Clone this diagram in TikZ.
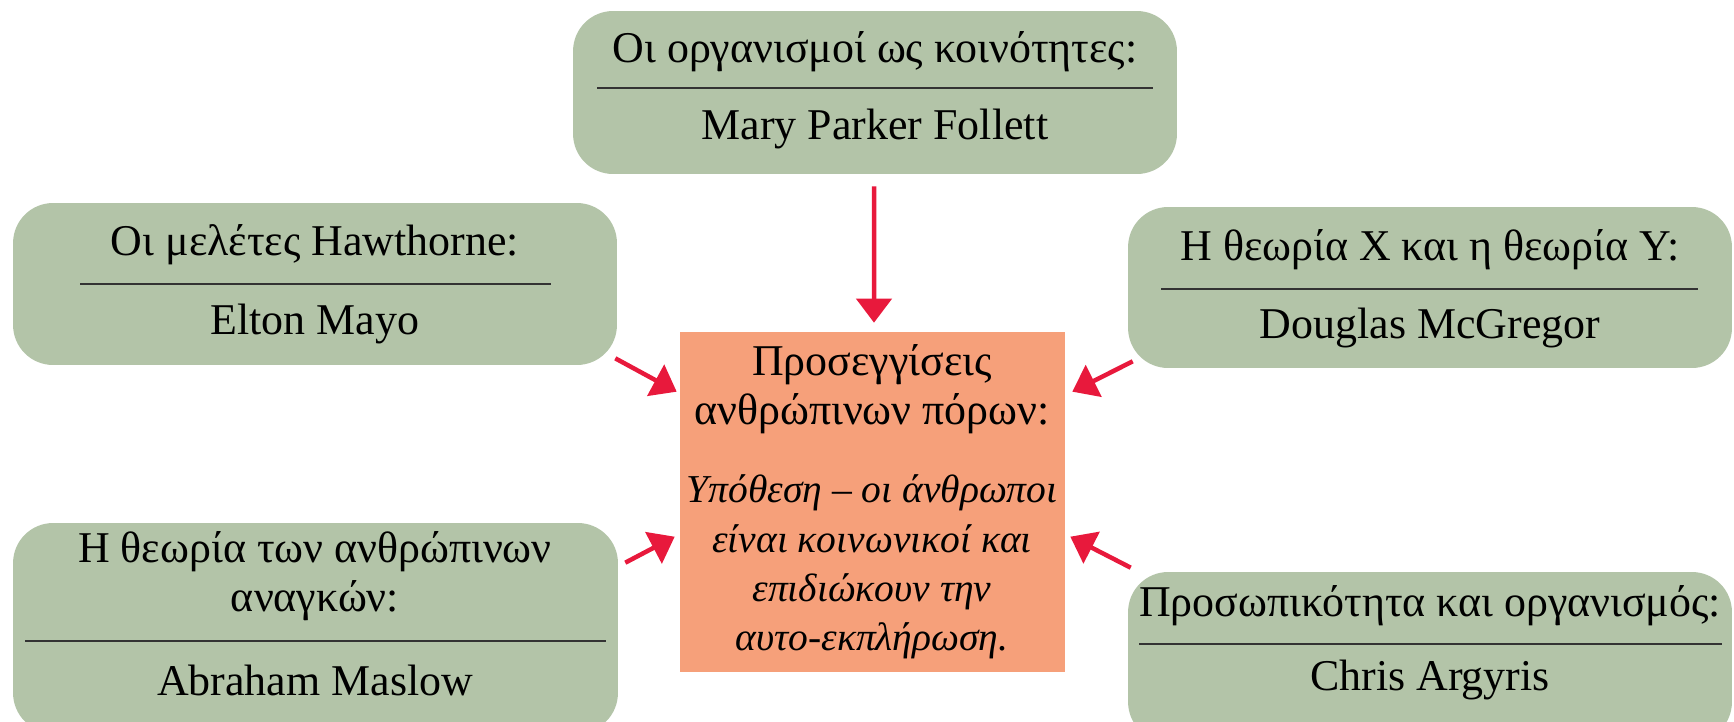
\documentclass[tikz,border=0pt]{standalone}
\usepackage{fontspec}
\setmainfont{Liberation Serif}
\usetikzlibrary{arrows.meta}
\definecolor{sage}{HTML}{B3C4A8}
\definecolor{salmon}{HTML}{F6A07A}
\definecolor{arrred}{HTML}{E8193C}
\begin{document}
\begin{tikzpicture}[
			x=0.02cm, y=-0.02cm,
			theory/.style={rectangle, rounded corners=0.8cm, fill=sage, inner sep=0pt},
			core/.style={rectangle, fill=salmon, inner sep=0pt},
			txt/.style={align=center, inner sep=0pt, font=\fontsize{25}{28}\selectfont},
			rulebar/.style={line width=0.04cm, black!80},
			arr/.style={-{Triangle[length=0.48cm, width=0.7cm]}, line width=0.09cm, arrred},
		]
		\useasboundingbox (0,0) rectangle (1734,721);

		% Boxes
		\node[theory, minimum width=12.08cm, minimum height=3.26cm] (follett) at (875,92.5)  {};
		\node[theory, minimum width=12.08cm, minimum height=3.24cm] (mayo)    at (315,284)   {};
		\node[theory, minimum width=12.08cm, minimum height=3.22cm] (mcgregor) at (1430,287.5) {};
		\node[theory, minimum width=12.1cm,  minimum height=4.2cm]  (maslow)  at (315.5,628) {};
		\node[theory, minimum width=12.08cm, minimum height=3.4cm]  (argyris) at (1430,657)  {};
		\node[core,   minimum width=7.7cm,   minimum height=6.8cm]  (centre)  at (872.5,502) {};

		% Texts
		\node[txt] (follettT) at (875,52)  {Οι οργανισμοί ως κοινότητες:};
		\node[txt] (follettN) at (875,129) {Mary Parker Follett};
		\node[txt] (mayoT)    at (315,245) {Οι μελέτες Hawthorne:};
		\node[txt] (mayoN)    at (315,324) {Elton Mayo};
		\node[txt] (mcgT)     at (1430,250) {Η θεωρία X και η θεωρία Y:};
		\node[txt] (mcgN)     at (1430,328) {Douglas McGregor};
		\node[txt] (maslowT)  at (315,576) {Η θεωρία των ανθρώπινων\\αναγκών:};
		\node[txt] (maslowN)  at (315,680) {Abraham Maslow};
		\node[txt] (argT)     at (1430,606) {Προσωπικότητα και οργανισμός:};
		\node[txt] (argN)     at (1430,680) {Chris Argyris};
		\node[txt] (centreT)  at (872,389) {Προσεγγίσεις\\ανθρώπινων πόρων:};
		\node[txt, font=\fontsize{22.5}{28}\selectfont\itshape] (centreH) at (872,567)
			{Υπόθεση -- οι άνθρωποι\\είναι κοινωνικοί και\\επιδιώκουν την\\αυτο-εκπλήρωση.};

		% Dividers
		\draw[rulebar] (597,88) -- (1153,88);
		\draw[rulebar] (80,284) -- (551,284);
		\draw[rulebar] (1161,289) -- (1698,289);
		\draw[rulebar] (25,641) -- (606,641);
		\draw[rulebar] (1139,644) -- (1722,644);

		% Arrows
		\draw[arr] ([shift={(-1,12)}]follett.south) -- ([shift={(1.5,-9)}]centre.north);
		\draw[arr] ([shift={(-2,-7)}]mayo.south east) -- ([shift={(-3,60)}]centre.north west);
		\draw[arr] ([shift={(5,-7)}]mcgregor.south west) -- ([shift={(7,60)}]centre.north east);
		\draw[arr] ([shift={(7,40)}]maslow.north east) -- ([shift={(-5,205)}]centre.north west);
		\draw[arr] ([shift={(3,-4)}]argyris.north west) -- ([shift={(5,205)}]centre.north east);

	\end{tikzpicture}
\end{document}
